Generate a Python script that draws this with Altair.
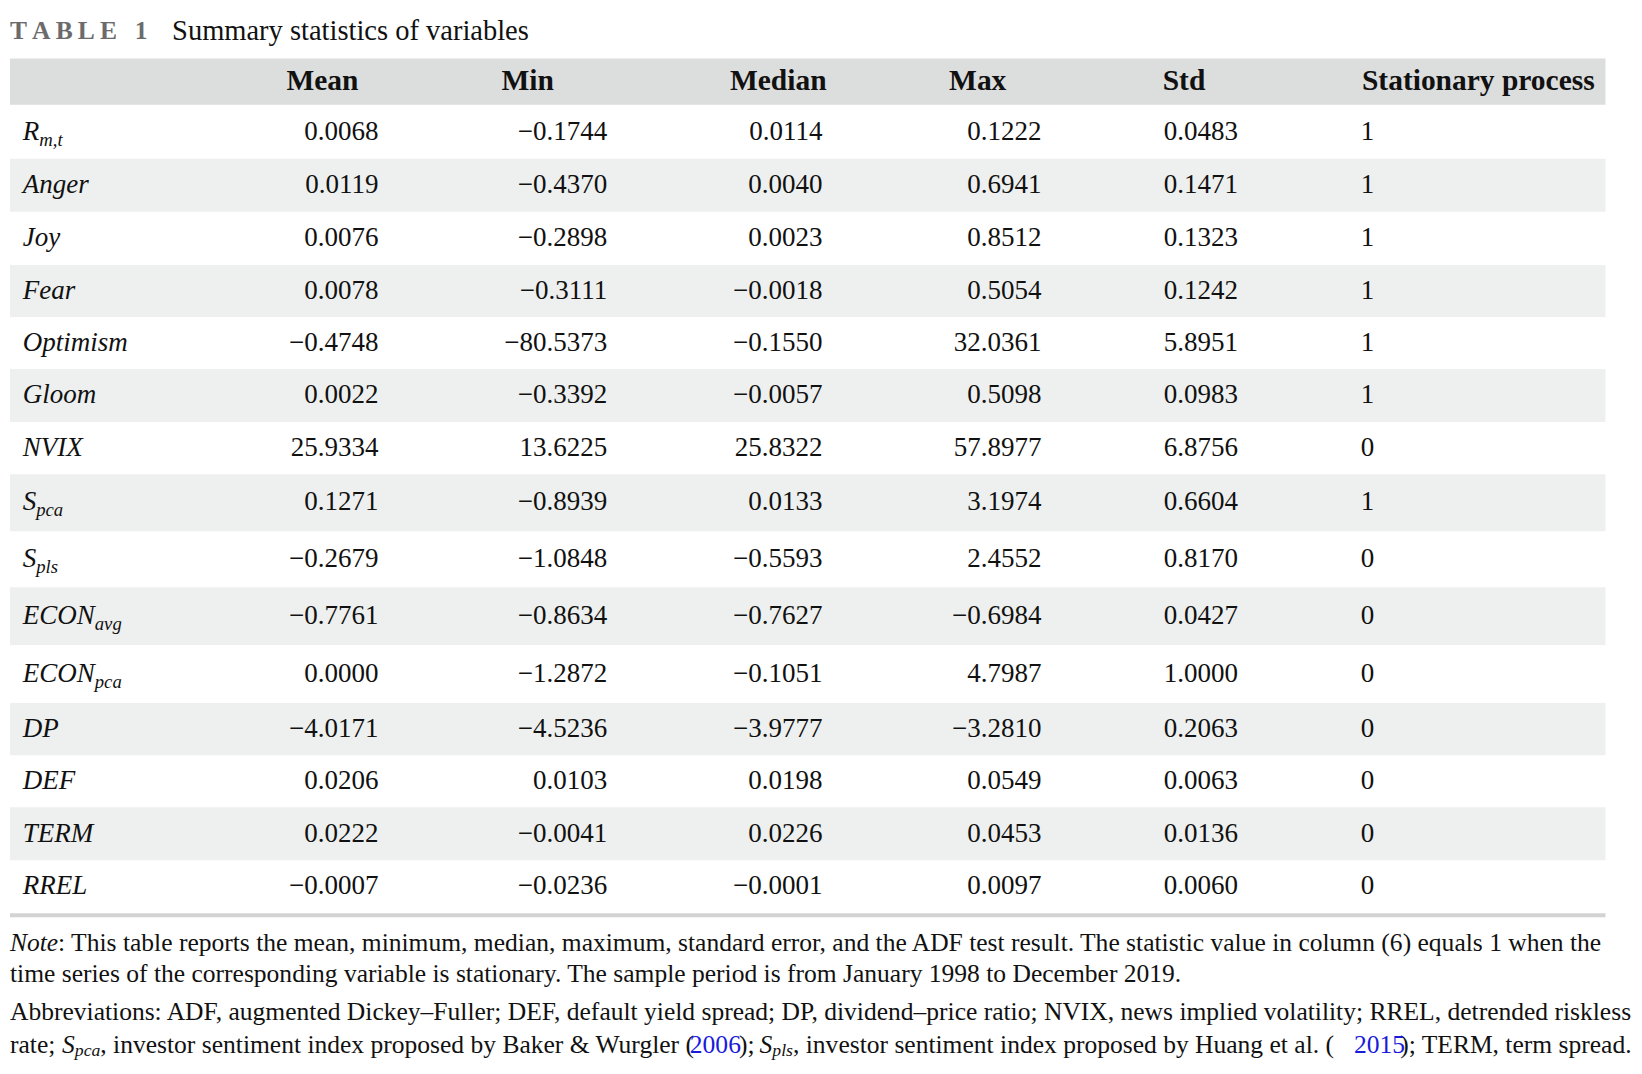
import altair as alt
import pandas as pd

FONT = "Liberation Serif"

VARIABLES = ["R", "Anger", "Joy", "Fear", "Optimism", "Gloom", "NVIX", "S", "S",
             "ECON", "ECON", "DP", "DEF", "TERM", "RREL"]
SUBSCRIPTS = ["m,t", "", "", "", "", "", "", "pca", "pls", "avg", "pca", "", "", "", ""]
MEAN = ["0.0068", "0.0119", "0.0076", "0.0078", "−0.4748", "0.0022", "25.9334", "0.1271",
        "−0.2679", "−0.7761", "0.0000", "−4.0171", "0.0206", "0.0222", "−0.0007"]
MIN = ["−0.1744", "−0.4370", "−0.2898", "−0.3111", "−80.5373", "−0.3392", "13.6225", "−0.8939",
       "−1.0848", "−0.8634", "−1.2872", "−4.5236", "0.0103", "−0.0041", "−0.0236"]
MEDIAN = ["0.0114", "0.0040", "0.0023", "−0.0018", "−0.1550", "−0.0057", "25.8322", "0.0133",
          "−0.5593", "−0.7627", "−0.1051", "−3.9777", "0.0198", "0.0226", "−0.0001"]
MAX = ["0.1222", "0.6941", "0.8512", "0.5054", "32.0361", "0.5098", "57.8977", "3.1974",
       "2.4552", "−0.6984", "4.7987", "−3.2810", "0.0549", "0.0453", "0.0097"]
STD = ["0.0483", "0.1471", "0.1323", "0.1242", "5.8951", "0.0983", "6.8756", "0.6604",
       "0.8170", "0.0427", "1.0000", "0.2063", "0.0063", "0.0136", "0.0060"]
STATIONARY = ["1", "1", "1", "1", "1", "1", "0", "1", "0", "0", "0", "0", "0", "0", "0"]
HEADERS = ["Mean", "Min", "Median", "Max", "Std", "Stationary process"]

# layout (pixel positions in the 1642x1074 page)
ROW_EDGES = [96, 151, 205, 259, 312, 365, 419, 472, 530, 587, 646, 705, 758, 811, 865, 918]
COL_RIGHT = [382, 615, 834, 1057, 1257]
STAT_LEFT = 1382
HEAD_X = [325, 534, 789, 992, 1202, 1620]
ITALIC_W = {"R": 0.611, "S": 0.5, "E": 0.611, "C": 0.667, "O": 0.722, "N": 0.667}
BODY = 27.5
NOTE = 26

xs = alt.Scale(domain=[8, 1634], range=[0, 1626])
ys = alt.Scale(domain=[8, 1066], range=[0, 1058])


def text_layer(df, **kw):
    return (
        alt.Chart(df)
        .mark_text(font=FONT, baseline="middle", **kw)
        .encode(
            x=alt.X("x:Q", scale=xs, axis=None),
            y=alt.Y("y:Q", scale=ys, axis=None),
            text="t:N",
        )
    )


centers = [(a + b) / 2 for a, b in zip(ROW_EDGES[:-1], ROW_EDGES[1:])]

# background bands
bands = [{"x": 7, "x2": 1631, "y": 49, "y2": 96, "c": "#dcdddd"}]
for i in range(len(VARIABLES)):
    if i % 2 == 1:
        bands.append({"x": 7, "x2": 1631, "y": ROW_EDGES[i], "y2": ROW_EDGES[i + 1], "c": "#eef0ef"})
band_chart = (
    alt.Chart(pd.DataFrame(bands))
    .mark_rect()
    .encode(
        x=alt.X("x:Q", scale=xs, axis=None),
        x2="x2:Q",
        y=alt.Y("y:Q", scale=ys, axis=None),
        y2="y2:Q",
        color=alt.Color("c:N", scale=None),
    )
)
bottom_rule = (
    alt.Chart(pd.DataFrame([{"x": 7, "x2": 1631, "y": 921}]))
    .mark_rule(color="#d3d3d3", strokeWidth=4)
    .encode(x=alt.X("x:Q", scale=xs, axis=None), x2="x2:Q", y=alt.Y("y:Q", scale=ys, axis=None))
)

# numbers
nums = []
for col, vals in enumerate([MEAN, MIN, MEDIAN, MAX, STD]):
    for i, v in enumerate(vals):
        nums.append({"x": COL_RIGHT[col], "y": centers[i], "t": v})
stat = [{"x": STAT_LEFT, "y": centers[i], "t": v} for i, v in enumerate(STATIONARY)]

labels = [{"x": 20, "y": centers[i], "t": v} for i, v in enumerate(VARIABLES)]
subs = []
for i, (v, s) in enumerate(zip(VARIABLES, SUBSCRIPTS)):
    if s:
        w = sum(ITALIC_W.get(ch, 0.6) for ch in v) * BODY
        subs.append({"x": 20 + w, "y": centers[i] + 8, "t": s})

heads = [{"x": HEAD_X[i], "y": 72, "t": h} for i, h in enumerate(HEADERS[:5])]
head_last = [{"x": HEAD_X[5], "y": 72, "t": HEADERS[5]}]

title_a = [{"x": 7, "y": 21, "t": "T\u2009A\u2009B\u2009L\u2009E\u2002\u20091"}]
title_b = [{"x": 172, "y": 21, "t": "Summary statistics of variables"}]

note_plain = [
    {"x": 56, "y": 949, "t": ": This table reports the mean, minimum, median, maximum, standard error, and the ADF test result. The statistic value in column (6) equals 1 when the"},
    {"x": 7, "y": 981, "t": "time series of the corresponding variable is stationary. The sample period is from January 1998 to December 2019."},
    {"x": 7, "y": 1020, "t": "Abbreviations: ADF, augmented Dickey–Fuller; DEF, default yield spread; DP, dividend–price ratio; NVIX, news implied volatility; RREL, detrended riskless"},
    {"x": 7, "y": 1053, "t": "rate;"},
    {"x": 99, "y": 1053, "t": ", investor sentiment index proposed by Baker & Wurgler ("},
    {"x": 749, "y": 1053, "t": ");"},
    {"x": 804, "y": 1053, "t": ", investor sentiment index proposed by Huang et al. ("},
    {"x": 1422, "y": 1053, "t": "); TERM, term spread."},
]
note_italic = [{"x": 7, "y": 949, "t": "Note"}, {"x": 60, "y": 1053, "t": "S"}, {"x": 770, "y": 1053, "t": "S"}]
note_sub = [{"x": 73, "y": 1059, "t": "pca"}, {"x": 783, "y": 1059, "t": "pls"}]
note_blue = [{"x": 699, "y": 1053, "t": "2006"}, {"x": 1375, "y": 1053, "t": "2015"}]

chart = alt.layer(
    band_chart,
    bottom_rule,
    text_layer(pd.DataFrame(title_a), align="left", fontSize=26, fontWeight="bold", color="#6b6b6b"),
    text_layer(pd.DataFrame(title_b), align="left", fontSize=29, color="#111111"),
    text_layer(pd.DataFrame(heads), align="center", fontSize=30, fontWeight="bold", color="#111111"),
    text_layer(pd.DataFrame(head_last), align="right", fontSize=30, fontWeight="bold", color="#111111"),
    text_layer(pd.DataFrame(labels), align="left", fontSize=BODY, fontStyle="italic", color="#111111"),
    text_layer(pd.DataFrame(subs), align="left", fontSize=19, fontStyle="italic", color="#111111"),
    text_layer(pd.DataFrame(nums), align="right", fontSize=BODY, color="#111111"),
    text_layer(pd.DataFrame(stat), align="left", fontSize=BODY, color="#111111"),
    text_layer(pd.DataFrame(note_plain), align="left", fontSize=NOTE, color="#111111"),
    text_layer(pd.DataFrame(note_italic), align="left", fontSize=NOTE, fontStyle="italic", color="#111111"),
    text_layer(pd.DataFrame(note_sub), align="left", fontSize=18, fontStyle="italic", color="#111111"),
    text_layer(pd.DataFrame(note_blue), align="left", fontSize=NOTE, color="#1a1adb"),
).properties(width=1626, height=1058, padding=0).configure_view(stroke=None)

chart.save("out.html", embed_options={"renderer": "svg", "actions": False})
